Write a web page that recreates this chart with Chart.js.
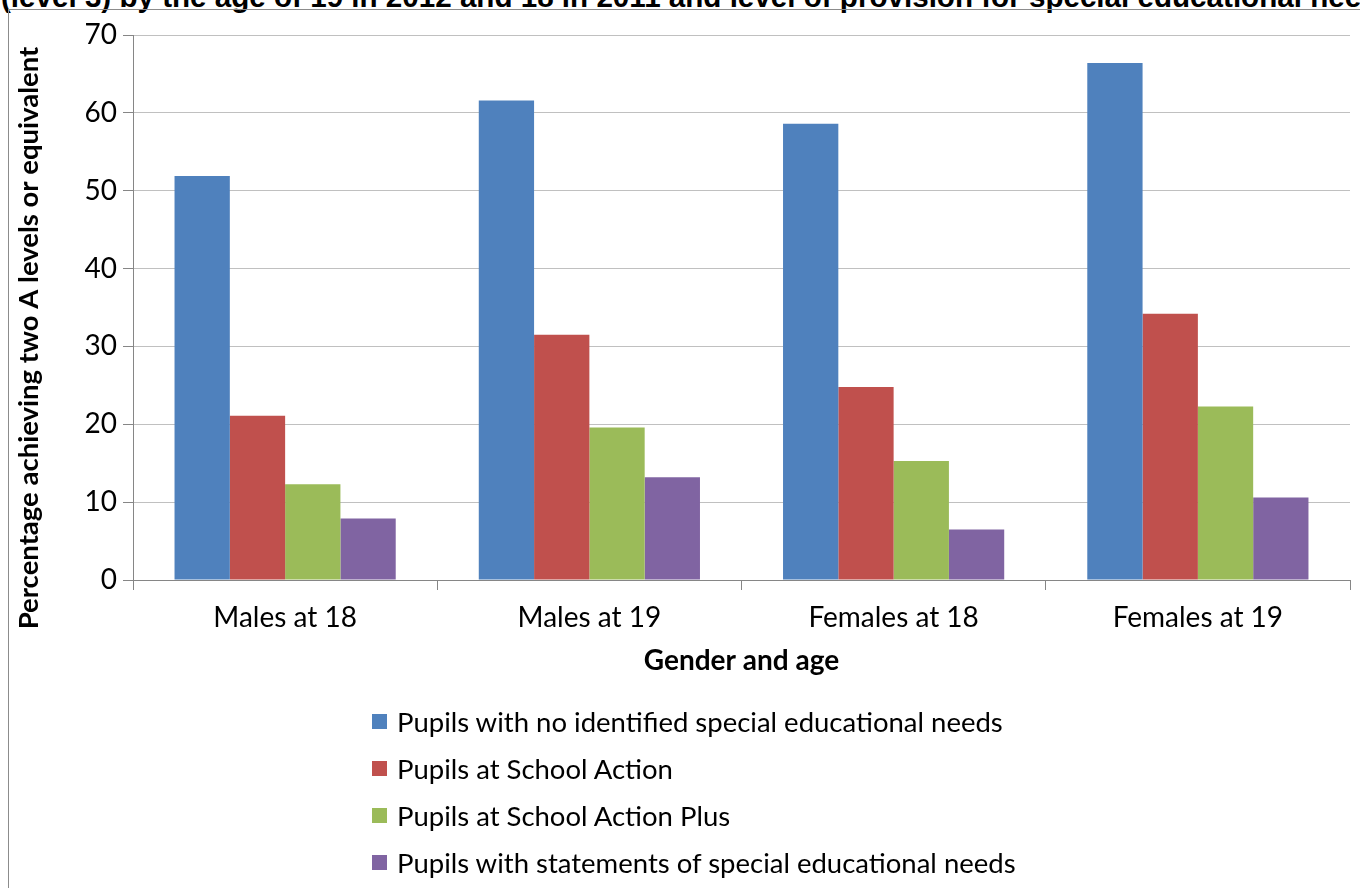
<!DOCTYPE html>
<html>
<head>
<meta charset="utf-8">
<title>Percentage achieving two A levels or equivalent</title>
<script src="https://cdn.jsdelivr.net/npm/chart.js@4.4.1/dist/chart.umd.min.js"></script>
<style>
  html, body { margin: 0; padding: 0; background: #fff; width: 1360px; height: 888px; overflow: hidden; position: relative; }
  #heading { position: absolute; left: 1px; top: -18px; font: bold 29.6px "Liberation Sans", Arial, sans-serif; line-height: 30px; white-space: nowrap; color: #000; }
  #frame { position: absolute; left: 8px; top: 9px; width: 1400px; height: 920px; border-left: 1px solid #8c8c8c; border-top: 1px solid #8c8c8c; }
  #chart { position: absolute; left: 0; top: 0; }
  #legend { position: absolute; left: 372px; top: 698px; font: 27.5px Lato, "Open Sans", sans-serif; color: #000; }
  #legend .item { display: flex; align-items: center; height: 47px; white-space: nowrap; }
  #legend .swatch { width: 15px; height: 15px; margin-right: 10px; flex: none; }
</style>
</head>
<body>
<div id="heading">(level 3) by the age of 19 in 2012 and 18 in 2011 and level of provision for special educational needs</div>
<div id="frame"></div>
<canvas id="chart" width="1360" height="888"></canvas>
<div id="legend"></div>
<script>
// Categories on the x axis
const categories = ['Males at 18', 'Males at 19', 'Females at 18', 'Females at 19'];

// Percentage achieving two A levels or equivalent, by SEN provision
const noIdentifiedSEN   = [51.9, 61.6, 58.6, 66.4];
const schoolAction      = [21.1, 31.5, 24.8, 34.2];
const schoolActionPlus  = [12.3, 19.6, 15.3, 22.3];
const statementsOfSEN   = [7.9, 13.2, 6.5, 10.6];

// Series names and colours
const seriesNames = [
  'Pupils with no identified special educational needs',
  'Pupils at School Action',
  'Pupils at School Action Plus',
  'Pupils with statements of special educational needs'
];
const seriesColours = ['#4F81BD', '#C0504D', '#9BBB59', '#8064A2'];

// Value axis range
const yMin = 0;
const yMax = 70;
const yStep = 10;

const seriesValues = [noIdentifiedSEN, schoolAction, schoolActionPlus, statementsOfSEN];

const tickFont = { family: 'Lato, "Open Sans", sans-serif', size: 28 };
const titleFont = { family: 'Lato, "Open Sans", sans-serif', size: 28, weight: 'bold' };

// Rotated value-axis title, drawn beside the tick labels
const valueAxisTitle = {
  id: 'valueAxisTitle',
  afterDraw(chart, args, opts) {
    const ctx = chart.ctx;
    ctx.save();
    ctx.translate(opts.x, opts.y);
    ctx.rotate(-Math.PI / 2);
    ctx.font = opts.font;
    ctx.fillStyle = opts.color;
    ctx.textAlign = 'center';
    ctx.textBaseline = 'middle';
    ctx.fillText(opts.text, 0, 0);
    ctx.restore();
  }
};

// Vertical legend list built from the datasets
const listLegend = {
  id: 'listLegend',
  afterUpdate(chart) {
    const box = document.getElementById('legend');
    box.innerHTML = '';
    chart.data.datasets.forEach(ds => {
      const row = document.createElement('div');
      row.className = 'item';
      const sw = document.createElement('span');
      sw.className = 'swatch';
      sw.style.background = ds.backgroundColor;
      const label = document.createElement('span');
      label.textContent = ds.label;
      row.appendChild(sw);
      row.appendChild(label);
      box.appendChild(row);
    });
  }
};

new Chart(document.getElementById('chart'), {
  type: 'bar',
  data: {
    labels: categories,
    datasets: seriesValues.map((vals, i) => ({
      label: seriesNames[i],
      data: vals,
      backgroundColor: seriesColours[i],
      borderWidth: 0,
      barPercentage: 1.0,
      categoryPercentage: 0.727
    }))
  },
  options: {
    responsive: false,
    animation: false,
    layout: { padding: { top: 35, right: 10, bottom: 210, left: 0 } },
    plugins: {
      legend: { display: false },
      title: { display: false },
      tooltip: { enabled: false },
      valueAxisTitle: {
        text: 'Percentage achieving two A levels or equivalent',
        x: 29, y: 338,
        font: 'bold 27.5px Lato, "Open Sans", sans-serif',
        color: '#000'
      }
    },
    scales: {
      x: {
        offset: true,
        grid: { display: true, offset: true, drawOnChartArea: false, drawTicks: true, tickLength: 10, tickColor: '#868686' },
        border: { display: true, color: '#868686' },
        ticks: { color: '#000', font: tickFont, padding: 11, maxRotation: 0 },
        title: { display: true, text: 'Gender and age', color: '#000', font: titleFont, padding: 0 },
        afterFit(scale) { scale.height = 98; }
      },
      y: {
        min: yMin, max: yMax,
        ticks: { stepSize: yStep, color: '#000', font: tickFont, padding: 6 },
        grid: {
          color: ctx => (ctx.tick && ctx.tick.value === 0) ? '#868686' : '#c0c0c0',
          tickColor: '#868686', tickLength: 10, drawTicks: true
        },
        border: { display: true, color: '#868686' },
        afterFit(scale) { scale.width = 133; }
      }
    }
  },
  plugins: [valueAxisTitle, listLegend]
});
</script>
</body>
</html>
